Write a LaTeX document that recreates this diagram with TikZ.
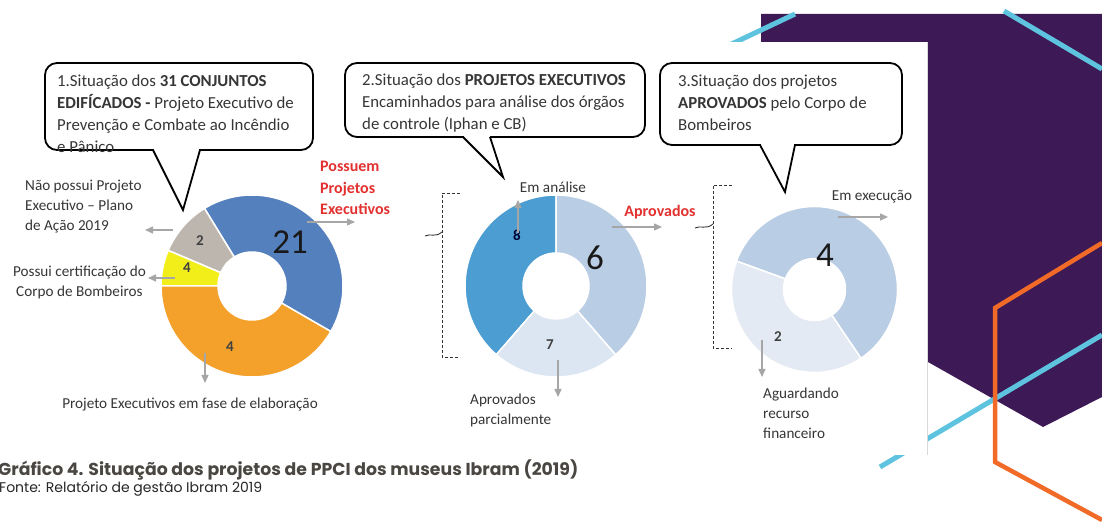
\documentclass[tikz,border=0pt]{standalone}
\usepackage{fontspec}
\setmainfont{Carlito}
\newfontfamily\capfont{Poppins}
\usetikzlibrary{arrows.meta}

\definecolor{txtgray}{HTML}{363636}
\definecolor{arrowgray}{HTML}{A6A6A6}
\definecolor{redlabel}{HTML}{E2312F}
\definecolor{pieblue}{HTML}{5580BE}
\definecolor{pieorange}{HTML}{F4A12C}
\definecolor{pieyellow}{HTML}{F2EE1A}
\definecolor{piegray}{HTML}{BDB6AF}
\definecolor{darkblue}{HTML}{4B9DD2}
\definecolor{midblue}{HTML}{B9CDE4}
\definecolor{paleblue}{HTML}{DCE6F2}
\definecolor{paleblueb}{HTML}{E4EAF3}
\definecolor{purplebg}{HTML}{3D1955}
\definecolor{cyanline}{HTML}{5EC3DE}
\definecolor{orangeline}{HTML}{F26A28}
\definecolor{captext}{HTML}{4A4641}

\tikzset{
    callout/.style={draw=black, line width=1.8pt, rounded corners=12pt},
    pointer/.style={draw=black, line width=1.8pt, line join=miter},
    boxtext/.style={font=\fontsize{16.8}{22}\selectfont, text=txtgray, inner sep=0, align=left, anchor=north west},
    lbl/.style={font=\fontsize{15.2}{20}\selectfont, text=txtgray, inner sep=0},
    redlbl/.style={font=\bfseries\fontsize{16}{21.5}\selectfont, text=redlabel, inner sep=0},
    smallval/.style={font=\bfseries\fontsize{15}{15}\selectfont, text=black!75},
    bigval/.style={font=\fontsize{35}{35}\selectfont, text=black!90},
    slice/.style={draw=white, line width=1.5pt},
    valarrow/.style={draw=arrowgray, line width=1.4pt, -{Triangle[length=8pt,width=7pt]}},
    bracket/.style={draw=black!80, densely dashed, line width=0.9pt}
}

\begin{document}
\begin{tikzpicture}[x=1pt, y=1pt]
    \useasboundingbox (0,0) rectangle (1102,524);

    % page decoration behind the chart
    \fill[purplebg] (761,510) -- (1102,510) -- (1102,127) -- (1043,97) -- (928,162) -- (928,482) -- (761,482) -- cycle;
    \draw[cyanline, line width=5pt] (700,465) -- (795,510);
    \draw[cyanline, line width=5pt] (1004,513) -- (1102,455);
    \draw[cyanline, line width=5pt] (880,57) -- (1102,189);
    \draw[orangeline, line width=4.5pt, line join=miter] (1102,281) -- (995,216) -- (995,62) -- (1102,4);
    \fill[white] (-1,69) rectangle (927,482);
    \draw[black!15, line width=1pt] (927,69) -- (927,482);

    % callouts
    \draw[callout] (45,374) rectangle (313,461);
    \fill[white] (154,372.5) rectangle (199,375.5);
    \draw[pointer] (153,374) -- (183,314) -- (200,374);
    \node[boxtext] (txt1) at (57,449) {1.Situação dos \textbf{31 CONJUNTOS}\\\textbf{EDIFÍCADOS -} Projeto Executivo de\\Prevenção e Combate ao Incêndio\\e Pânico};

    \draw[callout] (345,387) rectangle (645,461);
    \fill[white] (464,385.5) rectangle (489.5,388.5);
    \draw[pointer] (463,387) -- (503,347) -- (490,387);
    \node[boxtext] (txt2) at (362,450) {2.Situação dos \textbf{PROJETOS EXECUTIVOS}\\Encaminhados para análise dos órgãos\\de controle (Iphan e CB)};

    \draw[callout] (660,379) rectangle (902,461);
    \fill[white] (761,377.5) rectangle (794,380.5);
    \draw[pointer] (760,379) -- (785,332) -- (795,379);
    \node[boxtext] (txt3) at (678,449) {3.Situação dos projetos\\\textbf{APROVADOS} pelo Corpo de\\Bombeiros};

    % donut 1
    \begin{scope}[shift={(252,238)}]
        \foreach \from/\to/\col in {-30/121.5/pieblue, 121.5/157/piegray, 157/180/pieyellow, 180/330/pieorange}
            \filldraw[slice, fill=\col] (\from:34pt) -- (\from:91pt) arc[start angle=\from, end angle=\to, radius=91pt]
                -- (\to:34pt) arc[start angle=\to, end angle=\from, radius=34pt] -- cycle;
    \end{scope}
    \node[smallval] (v2a) at (200,283) {2};
    \node[smallval] (v4a) at (187,256) {4};
    \node[smallval] (v4b) at (230,177) {4};
    \node[bigval] (v21) at (290,282) {21};

    \node[lbl, align=left, anchor=west] (nopp) at (25,317) {Não possui Projeto\\Executivo – Plano\\de Ação 2019};
    \node[lbl, align=center, anchor=east] (certcb) at (146,242) {Possui certificação do\\Corpo de Bombeiros};
    \node[redlbl, align=left, anchor=west] (possuem) at (320,336) {Possuem\\Projetos\\Executivos};
    \node[lbl] (elab) at (190,119) {Projeto Executivos em fase de elaboração};

    \coordinate (grayA) at (173,294);
    \coordinate (grayB) at (145,294);
    \coordinate (yelA) at (175,246);
    \coordinate (yelB) at (148,246);
    \coordinate (blueA) at (307,302);
    \coordinate (blueB) at (355,302);
    \coordinate (oraA) at (205,171);
    \coordinate (oraB) at (205,141);
    \draw[valarrow] (grayA) -- (grayB);
    \draw[valarrow] (yelA) -- (yelB);
    \draw[valarrow] (blueA) -- (blueB);
    \draw[valarrow] (oraA) -- (oraB);

    % bracket from 1 to 2
    \draw[bracket] (460,331) -- (442,331) -- (442,167) -- (460,167);
    \draw[black!80, line width=0.9pt] (425,288) .. controls (431,291) and (435,286) .. (442,292);

    % donut 2
    \begin{scope}[shift={(556,238)}]
        \foreach \from/\to/\col in {90/229/darkblue, 229/311/paleblue, -49/90/midblue}
            \filldraw[slice, fill=\col] (\from:33pt) -- (\from:91pt) arc[start angle=\from, end angle=\to, radius=91pt]
                -- (\to:33pt) arc[start angle=\to, end angle=\from, radius=33pt] -- cycle;
    \end{scope}
    \node[smallval, text=black!80!blue] (v8) at (517,289) {8};
    \node[bigval] (v6) at (595,266) {6};
    \node[smallval] (v7) at (550,179) {7};

    \node[lbl] (emanalise) at (553,337) {Em análise};
    \node[lbl, align=left, anchor=west] (aprpar) at (470,114) {Aprovados\\parcialmente};
    \node[redlbl] (aprov) at (660,312) {Aprovados};

    \coordinate (darkA) at (518,291);
    \coordinate (darkB) at (518,324);
    \coordinate (paleA) at (558,164);
    \coordinate (paleB) at (558,127);
    \coordinate (midA) at (612,297);
    \coordinate (midB) at (662,297);
    \draw[valarrow] (darkA) -- (darkB);
    \draw[valarrow] (paleA) -- (paleB);
    \draw[valarrow] (midA) -- (midB);

    % bracket from 2 to 3
    \draw[bracket] (732,339) -- (713,339) -- (713,176) -- (732,176);
    \draw[black!80, line width=0.9pt] (695,296) .. controls (701,299) and (706,294) .. (713,300);

    % donut 3
    \begin{scope}[shift={(814.5,234.5)}]
        \foreach \from/\to/\col in {-56/160/midblue, 160/304/paleblueb}
            \filldraw[slice, fill=\col] (\from:31pt) -- (\from:83pt) arc[start angle=\from, end angle=\to, radius=83pt]
                -- (\to:31pt) arc[start angle=\to, end angle=\from, radius=31pt] -- cycle;
    \end{scope}
    \node[bigval] (v4c) at (825,269) {4};
    \node[smallval] (v2c) at (778,187) {2};

    \node[lbl] (emexec) at (872,327) {Em execução};
    \node[lbl, align=left, anchor=west] (aguard) at (763,111) {Aguardando\\recurso\\financeiro};

    \coordinate (execA) at (838,307);
    \coordinate (execB) at (888,307);
    \coordinate (waitA) at (762,184);
    \coordinate (waitB) at (762,147);
    \draw[valarrow] (execA) -- (execB);
    \draw[valarrow] (waitA) -- (waitB);

    % caption
    \node[anchor=west, inner sep=0, text=captext] (cap) at (-2,54) {\resizebox{580pt}{!}{\capfont\bfseries Gráfico 4. Situação dos projetos de PPCI dos museus Ibram (2019)}};
    \node[anchor=west, inner sep=0, text=black!85] (src) at (-1,35) {\resizebox{263pt}{!}{\capfont Fonte: Relatório de gestão Ibram 2019}};
\end{tikzpicture}
\end{document}
